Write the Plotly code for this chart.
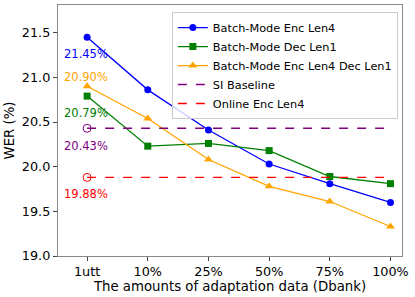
import plotly.graph_objects as go

categories = ["1utt", "10%", "25%", "50%", "75%", "100%"]
enc_len4 = [21.45, 20.86, 20.41, 20.03, 19.81, 19.60]
dec_len1 = [20.79, 20.23, 20.26, 20.18, 19.89, 19.81]
enc_dec = [20.90, 20.54, 20.08, 19.78, 19.61, 19.33]
si_baseline = 20.43
online_enc = 19.88

xs = list(range(len(categories)))
fig = go.Figure()
fig.add_trace(go.Scatter(x=xs, y=enc_len4, mode="lines+markers", name="Batch-Mode Enc Len4",
                         line=dict(color="blue", width=1.3), marker=dict(symbol="circle", size=7, color="blue")))
fig.add_trace(go.Scatter(x=xs, y=dec_len1, mode="lines+markers", name="Batch-Mode Dec Len1",
                         line=dict(color="green", width=1.3), marker=dict(symbol="square", size=7, color="green")))
fig.add_trace(go.Scatter(x=xs, y=enc_dec, mode="lines+markers", name="Batch-Mode Enc Len4 Dec Len1",
                         line=dict(color="orange", width=1.3), marker=dict(symbol="triangle-up", size=8, color="orange")))
fig.add_trace(go.Scatter(x=[xs[0], xs[-1]], y=[si_baseline, si_baseline], mode="lines", name="SI Baseline",
                         line=dict(color="purple", width=1.4, dash="dash")))
fig.add_trace(go.Scatter(x=[xs[0], xs[-1]], y=[online_enc, online_enc], mode="lines", name="Online Enc Len4",
                         line=dict(color="#ff0000", width=1.4, dash="dash")))
fig.add_trace(go.Scatter(x=[xs[0]], y=[si_baseline], mode="markers", showlegend=False,
                         marker=dict(symbol="circle-open", size=8, color="purple", line=dict(width=1))))
fig.add_trace(go.Scatter(x=[xs[0]], y=[online_enc], mode="markers", showlegend=False,
                         marker=dict(symbol="circle-open", size=8, color="#ff0000", line=dict(width=1))))

labels = [(enc_len4[0], 21.26, "blue"), (enc_dec[0], 21.0, "orange"), (dec_len1[0], 20.60, "green"),
          (si_baseline, 20.23, "purple"), (online_enc, 19.69, "#ff0000")]
for val, ypos, col in labels:
    fig.add_annotation(x=-0.42, y=ypos, text=f"{val:.2f}%", showarrow=False, xanchor="left",
                       yanchor="middle", font=dict(color=col, size=11.5, family="DejaVu Sans"))

axis_common = dict(showline=True, linecolor="#888", linewidth=1.2, mirror=True, ticks="outside",
                   ticklen=4, tickcolor="#444", showgrid=False, zeroline=False,
                   tickfont=dict(size=12.8, color="black", family="DejaVu Sans"))
fig.update_xaxes(range=[-0.48, 5.19], tickvals=xs, ticktext=categories,
                 title=dict(text="The amounts of adaptation data (Dbank)", standoff=1,
                            font=dict(size=13.3, family="DejaVu Sans", color="black")), **axis_common)
fig.update_yaxes(range=[19.0, 21.81], tickvals=[19.0, 19.5, 20.0, 20.5, 21.0, 21.5],
                 ticktext=["19.0", "19.5", "20.0", "20.5", "21.0", "21.5"],
                 title=dict(text="WER (%)", standoff=4, font=dict(size=13.3, family="DejaVu Sans", color="black")),
                 **axis_common)
fig.update_layout(width=415, height=297, margin=dict(l=58, r=13, t=5, b=41),
                  plot_bgcolor="white", paper_bgcolor="white",
                  legend=dict(x=0.988, y=0.972, xanchor="right", yanchor="top", bgcolor="rgba(255,255,255,0.8)",
                              bordercolor="#ccc", borderwidth=1, font=dict(size=11.3, family="DejaVu Sans", color="black"),
                              tracegroupgap=0, itemwidth=30))
fig.write_html("out.html", config={"displayModeBar": False},
               post_script="document.body.style.margin='0';document.body.style.padding='0';")
